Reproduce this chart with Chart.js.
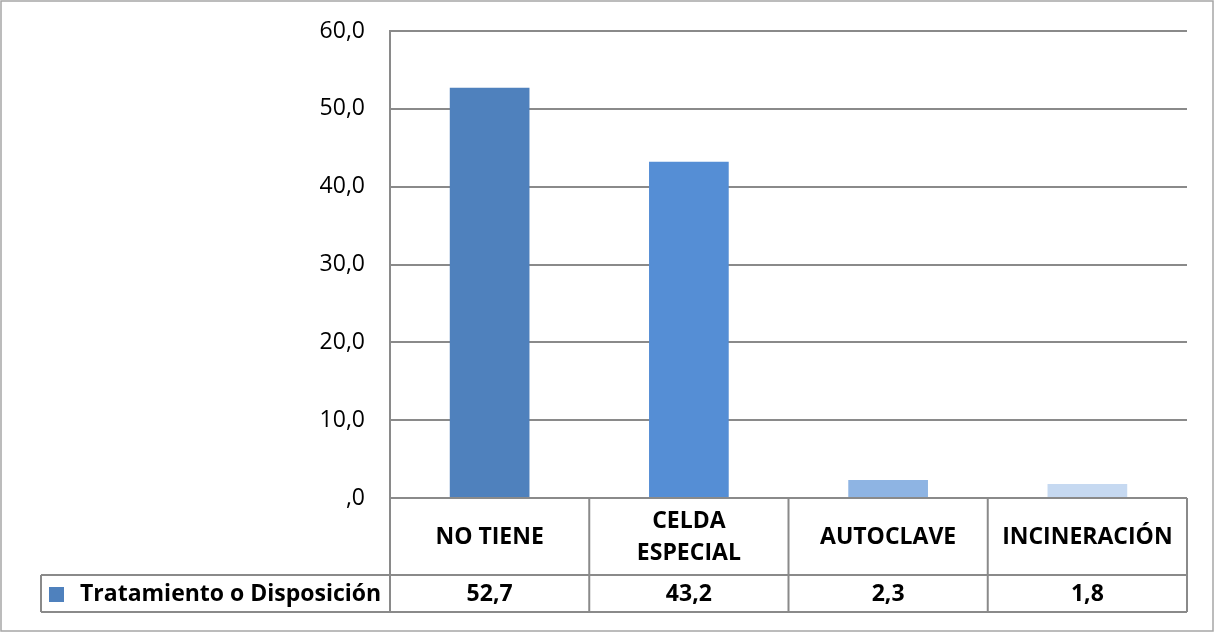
<!DOCTYPE html>
<html>
<head>
<meta charset="utf-8">
<script src="https://cdn.jsdelivr.net/npm/chart.js@4.4.1/dist/chart.umd.min.js"></script>
<style>
  html, body { margin: 0; padding: 0; background: #ffffff; }
  #wrap { width: 1215px; height: 635px; position: relative; }
</style>
</head>
<body>
<div id="wrap"><canvas id="c" width="1215" height="635"></canvas></div>
<script>
const categories = [['NO TIENE'], ['CELDA', 'ESPECIAL'], ['AUTOCLAVE'], ['INCINERACIÓN']];
const seriesName = 'Tratamiento o Disposición';
const values = [52.7, 43.2, 2.3, 1.8];
const valueLabels = ['52,7', '43,2', '2,3', '1,8'];
const barColors = ['#4F81BD', '#558ED5', '#8EB4E3', '#C6D9F1'];
const yTickLabels = [',0', '10,0', '20,0', '30,0', '40,0', '50,0', '60,0'];

const FONT = '"Open Sans", Lato, sans-serif';
const LINE = '#8a8a8a';

const tablePlugin = {
  id: 'dataTable',
  afterDraw(chart) {
    const ctx = chart.ctx;
    const area = chart.chartArea;
    const xs = chart.scales.x;
    const n = categories.length;
    const step = (area.right - area.left) / n;
    const top = area.bottom;
    const row1 = top + 77;
    const row2 = row1 + 37;
    const legendLeft = 41;
    ctx.save();
    ctx.strokeStyle = LINE;
    ctx.lineWidth = 2;
    ctx.beginPath();
    ctx.moveTo(area.left, top); ctx.lineTo(area.right, top);
    ctx.moveTo(legendLeft, row1); ctx.lineTo(area.right, row1);
    ctx.moveTo(legendLeft, row2); ctx.lineTo(area.right, row2);
    for (let i = 0; i <= n; i++) {
      const x = i < n ? xs.getPixelForValue(i) - step / 2 : xs.getPixelForValue(n - 1) + step / 2;
      ctx.moveTo(x, top); ctx.lineTo(x, row2);
    }
    ctx.moveTo(legendLeft, row1); ctx.lineTo(legendLeft, row2);
    ctx.stroke();

    ctx.fillStyle = '#000000';
    ctx.font = 'bold 23px ' + FONT;
    ctx.textAlign = 'center';
    ctx.textBaseline = 'middle';
    const lh = 32;
    categories.forEach((lines, i) => {
      const cx = xs.getPixelForValue(i);
      const cy = (top + row1) / 2 + 1;
      lines.forEach((t, j) => {
        ctx.fillText(t, cx, cy + (j - (lines.length - 1) / 2) * lh);
      });
    });
    valueLabels.forEach((t, i) => {
      ctx.fillText(t, xs.getPixelForValue(i), (row1 + row2) / 2 + 1);
    });
    ctx.fillStyle = barColors[0];
    ctx.fillRect(49, 587, 15, 15);
    ctx.fillStyle = '#000000';
    ctx.textAlign = 'left';
    ctx.fillText(seriesName, 80, (row1 + row2) / 2 + 1);

    ctx.strokeStyle = '#a6a6a6';
    ctx.lineWidth = 1.5;
    ctx.strokeRect(1, 1, 1212, 630);
    ctx.restore();
  }
};

new Chart(document.getElementById('c'), {
  type: 'bar',
  data: {
    labels: categories.map(c => c.join(' ')),
    datasets: [{
      label: seriesName,
      data: values,
      backgroundColor: barColors,
      borderWidth: 0,
      categoryPercentage: 1.0,
      barPercentage: 0.4
    }]
  },
  options: {
    responsive: false,
    animation: false,
    devicePixelRatio: 1,
    layout: { padding: { left: 0, top: 31, right: 28, bottom: 137 } },
    plugins: { legend: { display: false }, tooltip: { enabled: false } },
    scales: {
      x: { display: false },
      y: {
        min: 0, max: 60,
        afterFit(scale) {
          scale.width = 390;
          scale.paddingTop = 0;
          scale.paddingBottom = 0;
        },
        ticks: {
          stepSize: 10,
          padding: 25,
          color: '#000000',
          font: { family: FONT, size: 23 },
          callback: (v, i) => yTickLabels[i]
        },
        grid: { color: LINE, lineWidth: 2, drawTicks: false },
        border: { display: true, color: LINE, width: 2 }
      }
    }
  },
  plugins: [tablePlugin]
});
</script>
</body>
</html>
